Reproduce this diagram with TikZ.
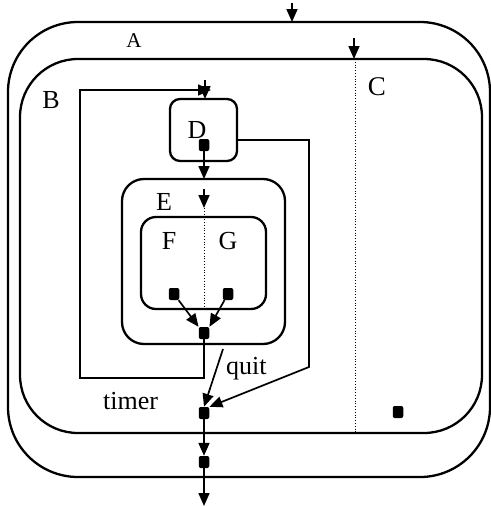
\documentclass[tikz,border=0pt]{standalone}
\usepackage{fontspec}
\setmainfont{Liberation Serif}
\usetikzlibrary{arrows.meta}
\begin{document}
\begin{tikzpicture}[x=1pt,y=-1pt,
  boxline/.style={line width=2.3pt},
  conn/.style={line width=1.7pt},
  arr/.style={conn,-{Triangle[length=13pt,width=11pt]}},
  sep/.style={line width=0.8pt,dotted},
  sq/.style={fill=black,rounded corners=2pt,minimum width=10.5pt,minimum height=12pt,inner sep=0pt},
  lbl/.style={font=\fontsize{26}{26}\selectfont,inner sep=0pt,anchor=base},
  lbll/.style={font=\fontsize{26}{26}\selectfont,inner sep=0pt,anchor=base west}]
\useasboundingbox (0,0) rectangle (490,506);
% state boxes
\draw[boxline,rounded corners=70pt] (8,22) rectangle (490,477);
\draw[boxline,rounded corners=58pt] (20,59) rectangle (482,433);
\draw[sep] (355,59) -- (355,433);
\draw[boxline,rounded corners=10pt] (170,99) rectangle (237,161);
\draw[boxline,rounded corners=22pt] (122,179) rectangle (285,344);
\draw[boxline,rounded corners=15pt] (141,217) rectangle (266,309);
\draw[sep] (204,208) -- (204,309);
% labels
\node[lbl,font=\fontsize{21}{21}\selectfont] (lA) at (134,47) {A};
\node[lbl] (lB) at (51,108) {B};
\node[lbl,font=\fontsize{27}{27}\selectfont] (lC) at (377,95) {C};
\node[lbl] (lD) at (197,138) {D};
\node[lbl] (lE) at (164,210) {E};
\node[lbl] (lF) at (169,249) {F};
\node[lbl] (lG) at (228,249) {G};
\node[lbll] (lquit) at (226,374) {quit};
\node[lbll] (ltimer) at (103,409) {timer};
% pseudo states
\node[sq] (sD) at (204,145) {};
\node[sq] (sF) at (174,294) {};
\node[sq] (sG) at (228,294) {};
\node[sq] (sJ) at (204,333) {};
\node[sq] (sT) at (204,413) {};
\node[sq] (sU) at (204,462) {};
\node[sq] (sC) at (398,412) {};
% coordinates
\coordinate (a0) at (292,3);  \coordinate (a1) at (292,22);
\coordinate (c0) at (354,38); \coordinate (c1) at (354,59);
\coordinate (d0) at (205,80); \coordinate (d1) at (205,99);
\coordinate (e0) at (204,179);
\coordinate (f0) at (204,189); \coordinate (f1) at (204,208);
\coordinate (q0) at (223,349);
\coordinate (out) at (204,506);
% connectors
\draw[arr] (a0) -- (a1);
\draw[arr] (c0) -- (c1);
\draw[arr] (d0) -- (d1);
\draw[arr] (sJ.south) -- (204,378) -- (80,378) -- (80,90) -- (211,90);
\draw[arr] (sD.south) -- (e0);
\draw[arr] (f0) -- (f1);
\draw[arr] (sF) -- (sJ.north west);
\draw[arr] (sG) -- (sJ.north east);
\draw[arr] (q0) -- (sT.north);
\draw[arr] (237,140) -- (309,140) -- (309,367) -- (sT.north east);
\draw[arr] (sT) -- (sU);
\draw[arr] (sU) -- (out);
\end{tikzpicture}
\end{document}
